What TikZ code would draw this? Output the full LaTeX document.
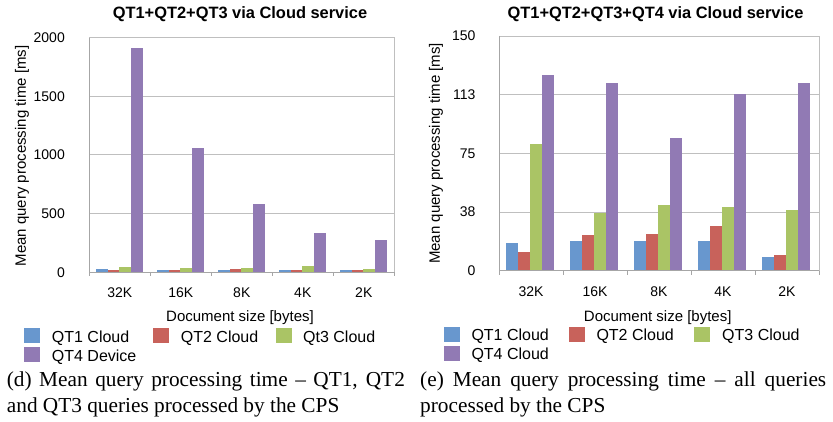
\documentclass[tikz,border=0pt]{standalone}
\usepackage{fontspec}
\setmainfont{Liberation Serif}
\setsansfont{Liberation Sans}
\definecolor{cblue}{RGB}{104,151,206}
\definecolor{cred}{RGB}{200,98,91}
\definecolor{cgreen}{RGB}{170,196,101}
\definecolor{cpurple}{RGB}{145,122,180}
\definecolor{gridc}{RGB}{191,191,191}
\definecolor{axisc}{RGB}{166,166,166}
\tikzset{
  gridline/.style={draw=gridc, line width=0.9pt},
  axisline/.style={draw=axisc, line width=0.9pt},
  charttitle/.style={font=\sffamily\bfseries\fontsize{16.4}{18}\selectfont, inner sep=0pt},
  ticklab/.style={font=\sffamily\fontsize{14}{16}\selectfont, inner sep=0pt},
  axtitle/.style={font=\sffamily\fontsize{15}{17}\selectfont, inner sep=0pt},
  legtext/.style={font=\sffamily\fontsize{16}{18}\selectfont, inner sep=0pt, anchor=base west},
  capt/.style={font=\fontsize{21.3}{26}\selectfont, inner sep=0pt, anchor=north west, text width=398pt, align=justify}
}
\begin{document}
\begin{tikzpicture}[x=1pt,y=-1pt]
\useasboundingbox[fill=white] (0,0) rectangle (833,421);

% ---------------- Left chart ----------------
\node[charttitle] (tl) at (240,14.5) {QT1+QT2+QT3 via Cloud service};
% grid
\foreach \v in {500,1000,1500} {
  \draw[gridline] (89.3,{272.3-\v*0.1174}) -- (394.3,{272.3-\v*0.1174});
}
\draw[gridline] (89.3,37.5) rectangle (394.3,272.3);
% bars
\foreach \i/\a/\b/\c/\d in {0/30/20/45/1911, 1/20/20/37/1059, 2/20/31/37/582, 3/20/20/54/335, 4/20/20/28/275} {
  \pgfmathsetmacro\gx{89.3+61*\i+6.7}
  \fill[cblue]   (\gx,272.3) rectangle ++(11.7,-\a*0.1174);
  \fill[cred]    (\gx+11.7,272.3) rectangle ++(11.7,-\b*0.1174);
  \fill[cgreen]  (\gx+23.4,272.3) rectangle ++(11.7,-\c*0.1174);
  \fill[cpurple] (\gx+35.1,272.3) rectangle ++(11.7,-\d*0.1174);
}
\draw[axisline] (89.3,37.5) -- (89.3,272.3) -- (394.3,272.3);
\foreach \i in {0,...,5} { \draw[axisline] (89.3+61*\i,272.3) -- ++(0,4); }
% y tick labels
\foreach \v in {0,500,1000,1500,2000} {
  \node[ticklab, anchor=east] at (65,{272.3-\v*0.1174}) {\v};
}
% x labels
\foreach \i/\t in {0/32K,1/16K,2/8K,3/4K,4/2K} {
  \node[ticklab] at (89.3+61*\i+30.5,292.7) {\t};
}
\node[axtitle, anchor=base] (xl) at (240,321.5) {Document size [bytes]};
\node[axtitle, rotate=90] (yl) at (22,156) {Mean query processing time [ms]};
% legend
\fill[cblue]   (24,328) rectangle (40,343);
\fill[cred]    (153,328) rectangle (169,343);
\fill[cgreen]  (276,328) rectangle (291.7,343);
\fill[cpurple] (24,347) rectangle (40,362);
\node[legtext] (l1) at (51.7,342.3) {QT1 Cloud};
\node[legtext] (l2) at (180.7,342.3) {QT2 Cloud};
\node[legtext] (l3) at (303,342.3) {Qt3 Cloud};
\node[legtext] (l4) at (51.7,361) {QT4 Device};
\node[capt] (cd) at (6.7,371.9) {(d) Mean query processing time -- QT1, QT2\linebreak and QT3 queries processed by the CPS};

% ---------------- Right chart ----------------
\node[charttitle] (tr) at (655.5,14.5) {QT1+QT2+QT3+QT4 via Cloud service};
\foreach \v in {37.5,75,112.5} {
  \draw[gridline] (499,{270.7-\v*1.565}) -- (819,{270.7-\v*1.565});
}
\draw[gridline] (499,35.95) rectangle (819,270.7);
\foreach \i/\a/\b/\c/\d in {0/17.7/12/81/125, 1/19/23/37/120, 2/19/23.5/42/85, 3/19/28.5/40.7/113, 4/8.8/10/38.8/120} {
  \pgfmathsetmacro\gx{499+64*\i+6.7}
  \fill[cblue]   (\gx,270.7) rectangle ++(12,-\a*1.565);
  \fill[cred]    (\gx+12,270.7) rectangle ++(12,-\b*1.565);
  \fill[cgreen]  (\gx+24,270.7) rectangle ++(12,-\c*1.565);
  \fill[cpurple] (\gx+36,270.7) rectangle ++(12,-\d*1.565);
}
\draw[axisline] (499,35.95) -- (499,270.7) -- (819,270.7);
\foreach \i in {0,...,5} { \draw[axisline] (499+64*\i,270.7) -- ++(0,4); }
\foreach \v/\t in {0/0,37.5/38,75/75,112.5/113,150/150} {
  \node[ticklab, anchor=east] at (475.7,{270.7-\v*1.565}) {\t};
}
\foreach \i/\t in {0/32K,1/16K,2/8K,3/4K,4/2K} {
  \node[ticklab] at (499+64*\i+32,291.7) {\t};
}
\node[axtitle, anchor=base] (xr) at (657.7,321.5) {Document size [bytes]};
\node[axtitle, rotate=90] (yr) at (436,153.5) {Mean query processing time [ms]};
\fill[cblue]   (444,326.7) rectangle (459.7,342.3);
\fill[cred]    (569,326.7) rectangle (585,342.3);
\fill[cgreen]  (694,326.7) rectangle (710,342.3);
\fill[cpurple] (444,346) rectangle (459.7,360.7);
\node[legtext] (r1) at (471.3,340.5) {QT1 Cloud};
\node[legtext] (r2) at (596.3,340.5) {QT2 Cloud};
\node[legtext] (r3) at (722,340.5) {QT3 Cloud};
\node[legtext] (r4) at (471.3,359.3) {QT4 Cloud};
\node[capt, text width=406pt] (ce) at (420,371.9) {(e) Mean query processing time -- all queries\linebreak processed by the CPS};
\end{tikzpicture}
\end{document}
